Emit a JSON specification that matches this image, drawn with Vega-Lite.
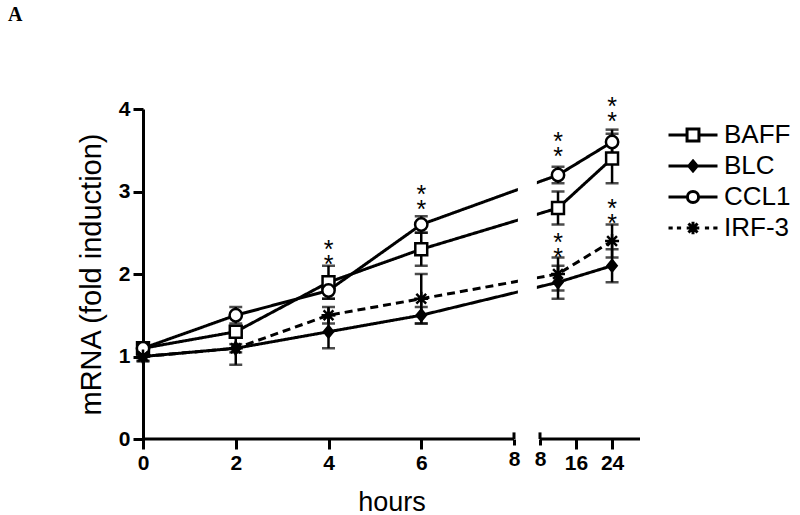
{
  "$schema": "https://vega.github.io/schema/vega-lite/v6.json",
  "width": 497,
  "height": 330,
  "autosize": "none",
  "padding": {"left": 143, "top": 109, "right": 160, "bottom": 76},
  "background": "white",
  "title": {"text": "A", "anchor": "start", "frame": "group", "orient": "top", "font": "Liberation Serif", "fontSize": 20, "fontWeight": "bold", "color": "black", "dx": -135, "offset": 59},
  "config": {
    "font": "Liberation Sans",
    "view": {"stroke": null},
    "axis": {"grid": false, "labelColor": "black", "titleColor": "black", "tickColor": "black", "domainColor": "black"}
  },
  "datasets": {
    "main": [
      {"series": "BAFF", "hour": 0, "mean": 1.1, "err": 0.07},
      {"series": "BAFF", "hour": 2, "mean": 1.3, "err": 0.05},
      {"series": "BAFF", "hour": 4, "mean": 1.9, "err": 0.2},
      {"series": "BAFF", "hour": 6, "mean": 2.3, "err": 0.2},
      {"series": "BAFF", "hour": 12, "mean": 2.8, "err": 0.2},
      {"series": "BAFF", "hour": 24, "mean": 3.4, "err": 0.3},
      {"series": "BLC", "hour": 0, "mean": 1.0, "err": 0.05},
      {"series": "BLC", "hour": 2, "mean": 1.1, "err": 0.05},
      {"series": "BLC", "hour": 4, "mean": 1.3, "err": 0.2},
      {"series": "BLC", "hour": 6, "mean": 1.5, "err": 0.1},
      {"series": "BLC", "hour": 12, "mean": 1.9, "err": 0.2},
      {"series": "BLC", "hour": 24, "mean": 2.1, "err": 0.2},
      {"series": "CCL1", "hour": 0, "mean": 1.1, "err": 0.05},
      {"series": "CCL1", "hour": 2, "mean": 1.5, "err": 0.1},
      {"series": "CCL1", "hour": 4, "mean": 1.8, "err": 0.1},
      {"series": "CCL1", "hour": 6, "mean": 2.6, "err": 0.1},
      {"series": "CCL1", "hour": 12, "mean": 3.2, "err": 0.1},
      {"series": "CCL1", "hour": 24, "mean": 3.6, "err": 0.15},
      {"series": "IRF-3", "hour": 0, "mean": 1.0, "err": 0.06},
      {"series": "IRF-3", "hour": 2, "mean": 1.1, "err": 0.2},
      {"series": "IRF-3", "hour": 4, "mean": 1.5, "err": 0.1},
      {"series": "IRF-3", "hour": 6, "mean": 1.7, "err": 0.3},
      {"series": "IRF-3", "hour": 12, "mean": 2.0, "err": 0.2},
      {"series": "IRF-3", "hour": 24, "mean": 2.4, "err": 0.2}
    ],
    "sig": [
      {"hour": 4, "mean": 2.33},
      {"hour": 6, "mean": 3.0},
      {"hour": 12, "mean": 3.64},
      {"hour": 12, "mean": 2.41},
      {"hour": 24, "mean": 4.06},
      {"hour": 24, "mean": 2.82}
    ],
    "one": [{}]
  },
  "layer": [
    {
      "data": {"name": "main"},
      "mark": {"type": "line", "color": "black", "strokeWidth": 3},
      "encoding": {
        "x": {"field": "hour", "type": "quantitative", "title": "hours",
          "scale": {"domain": [0, 8, 8.001, 30.2], "range": [0, 371, 397, 497], "nice": false, "zero": false},
          "axis": {"values": [0, 2, 4, 6, 8, 8.001, 16, 24], "labelExpr": "format(datum.value, '.0f')", "domain": false,
            "tickSize": {"condition": {"test": "datum.value == 8 || datum.value == 8.001", "value": 6}, "value": 10},
            "tickWidth": 3, "labelFontSize": 21, "labelFontWeight": "bold", "labelPadding": 3, "labelOverlap": false, "labelFlush": false,
            "titleFontSize": 27, "titleFontWeight": "normal", "titlePadding": 16}},
        "y": {"field": "mean", "type": "quantitative", "title": "mRNA (fold induction)",
          "scale": {"domain": [0, 4], "nice": false, "zero": false},
          "axis": {"values": [0, 1, 2, 3, 4], "format": ".0f", "tickSize": 10, "tickWidth": 3, "domainWidth": 3, "labelFontSize": 21, "labelFontWeight": "bold", "labelPadding": 3,
            "titleFontSize": 29, "titleFontWeight": "normal", "titlePadding": 12}},
        "detail": {"field": "series"},
        "strokeDash": {"condition": {"test": "datum.series === 'IRF-3'", "value": [8, 5]}, "value": [1, 0]}
      }
    },
    {
      "data": {"name": "one"},
      "mark": {"type": "rect", "color": "white"},
      "encoding": {
        "x": {"datum": 8.00015, "type": "quantitative"},
        "x2": {"datum": 8.00088},
        "y": {"datum": 0.05, "type": "quantitative"},
        "y2": {"datum": 4.3}
      }
    },
    {
      "data": {"name": "main"},
      "mark": {"type": "errorbar", "color": "black", "thickness": 2.5, "ticks": {"size": 13, "thickness": 2.5}},
      "encoding": {
        "x": {"field": "hour", "type": "quantitative", "title": "hours"},
        "y": {"field": "mean", "type": "quantitative", "title": "mRNA (fold induction)"},
        "yError": {"field": "err"},
        "detail": {"field": "series"}
      }
    },
    {
      "data": {"name": "main"},
      "mark": {"type": "point", "filled": true, "stroke": "black", "strokeWidth": 2.5, "size": 196, "opacity": 1},
      "encoding": {
        "x": {"field": "hour", "type": "quantitative", "title": "hours"},
        "y": {"field": "mean", "type": "quantitative", "title": "mRNA (fold induction)"},
        "shape": {"condition": [
            {"test": "datum.series === 'BAFF'", "value": "M-0.85,-0.85H0.85V0.85H-0.85Z"},
            {"test": "datum.series === 'BLC'", "value": "M0,-0.8L0.65,0L0,0.8L-0.65,0Z"},
            {"test": "datum.series === 'CCL1'", "value": "M-0.88,0A0.88,0.88 0 1,0 0.88,0A0.88,0.88 0 1,0 -0.88,0Z"}
          ],
          "value": "M-1,0H1M0,-1V1M-0.7,-0.7L0.7,0.7M-0.7,0.7L0.7,-0.7"},
        "fill": {"condition": {"test": "datum.series === 'BLC'", "value": "black"}, "value": "white"}
      }
    },
    {
      "data": {"name": "main"},
      "transform": [{"filter": "datum.hour < 0"}],
      "mark": {"type": "point", "filled": false, "color": "black", "strokeWidth": 3, "opacity": 1},
      "encoding": {
        "x": {"field": "hour", "type": "quantitative", "title": "hours"},
        "y": {"field": "mean", "type": "quantitative", "title": "mRNA (fold induction)"},
        "shape": {"field": "series", "type": "nominal",
          "scale": {"domain": ["BAFF", "BLC", "CCL1", "IRF-3"],
            "range": [
              "M-3.5,0H-0.85M0.85,0H3.5M-0.85,-0.85H0.85V0.85H-0.85Z",
              "M-3.5,0H3.5M0,-0.7L0.6,0L0,0.7L-0.6,0ZM0,-0.35L0.3,0L0,0.35L-0.3,0ZM0,-0.6V0.6",
              "M-3.5,0H-0.8M0.8,0H3.5M-0.8,0A0.8,0.8 0 1,0 0.8,0A0.8,0.8 0 1,0 -0.8,0Z",
              "M-3.5,0H-2.9M-2.3,0H-1.7M-0.9,0H0.9M0,-0.9V0.9M-0.65,-0.65L0.65,0.65M-0.65,0.65L0.65,-0.65M1.7,0H2.3M2.9,0H3.5"
            ]},
          "legend": {"orient": "none", "legendX": 537, "legendY": 13, "title": null, "padding": 0,
            "labelFontSize": 26, "labelFont": "Liberation Sans", "labelColor": "black", "labelOffset": 18,
            "symbolSize": 196, "rowPadding": 5, "symbolStrokeWidth": 3, "symbolStrokeColor": "black", "symbolFillColor": "white", "symbolOpacity": 1}
        }
      }
    },
    {
      "data": {"name": "sig"},
      "mark": {"type": "text", "text": ["*", "*"], "font": "Liberation Sans", "fontSize": 25, "lineHeight": 15, "baseline": "middle", "dy": 3, "color": "black"},
      "encoding": {
        "x": {"field": "hour", "type": "quantitative", "title": "hours"},
        "y": {"field": "mean", "type": "quantitative", "title": "mRNA (fold induction)"}
      }
    },
    {
      "data": {"name": "one"},
      "mark": {"type": "rule", "color": "black", "strokeWidth": 3},
      "encoding": {
        "x": {"datum": 0, "type": "quantitative"},
        "x2": {"datum": 8},
        "y": {"datum": 0, "type": "quantitative"}
      }
    },
    {
      "data": {"name": "one"},
      "mark": {"type": "rule", "color": "black", "strokeWidth": 3},
      "encoding": {
        "x": {"datum": 8.001, "type": "quantitative"},
        "x2": {"datum": 30.2},
        "y": {"datum": 0, "type": "quantitative"}
      }
    },
    {
      "data": {"name": "one"},
      "mark": {"type": "rule", "color": "black", "strokeWidth": 3},
      "encoding": {
        "x": {"datum": 8, "type": "quantitative"},
        "y": {"datum": 0, "type": "quantitative"},
        "y2": {"datum": 0.08}
      }
    },
    {
      "data": {"name": "one"},
      "mark": {"type": "rule", "color": "black", "strokeWidth": 3},
      "encoding": {
        "x": {"datum": 8.001, "type": "quantitative"},
        "y": {"datum": 0, "type": "quantitative"},
        "y2": {"datum": 0.08}
      }
    }
  ]
}
